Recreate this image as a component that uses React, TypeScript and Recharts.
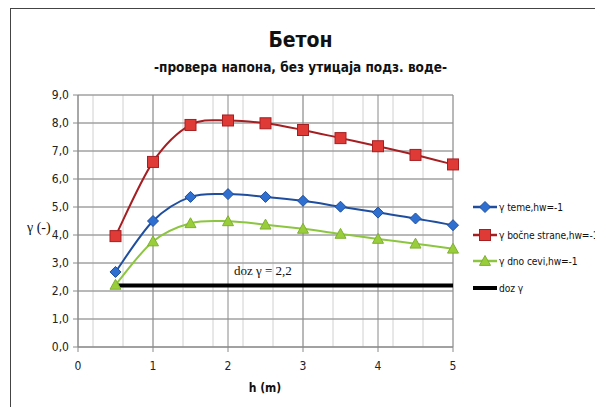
import React from 'react';
import { LineChart, Line, XAxis, YAxis, CartesianGrid } from 'recharts';

const hValues = [0.5, 1, 1.5, 2, 2.5, 3, 3.5, 4, 4.5, 5];
const gammaTeme = [2.68, 4.5, 5.36, 5.46, 5.36, 5.22, 5.01, 4.8, 4.59, 4.35];
const gammaBocne = [3.96, 6.61, 7.93, 8.09, 7.99, 7.75, 7.46, 7.17, 6.86, 6.52];
const gammaDno = [2.22, 3.77, 4.42, 4.49, 4.37, 4.22, 4.04, 3.86, 3.69, 3.51];
const dozGamma = [2.2, 2.2, 2.2, 2.2, 2.2, 2.2, 2.2, 2.2, 2.2, 2.2];

const xTicks = [0, 1, 2, 3, 4, 5];
const yTicks = [0, 1, 2, 3, 4, 5, 6, 7, 8, 9];
const xMinor = [0, 0.2, 0.4, 0.6, 0.8, 1, 1.2, 1.4, 1.6, 1.8, 2, 2.2, 2.4, 2.6, 2.8, 3, 3.2, 3.4, 3.6, 3.8, 4, 4.2, 4.4, 4.6, 4.8, 5];
const yMinor = [0, 0.2, 0.4, 0.6, 0.8, 1, 1.2, 1.4, 1.6, 1.8, 2, 2.2, 2.4, 2.6, 2.8, 3, 3.2, 3.4, 3.6, 3.8, 4, 4.2, 4.4, 4.6, 4.8, 5, 5.2, 5.4, 5.6, 5.8, 6, 6.2, 6.4, 6.6, 6.8, 7, 7.2, 7.4, 7.6, 7.8, 8, 8.2, 8.4, 8.6, 8.8, 9];

const data = hValues.map((h, i) => ({
  h,
  teme: gammaTeme[i],
  bocne: gammaBocne[i],
  dno: gammaDno[i],
  doz: dozGamma[i],
}));

const NARROW = "'Liberation Sans Narrow', 'DejaVu Sans Condensed', 'Arial Narrow', sans-serif";
const SERIF = "'Liberation Serif', 'DejaVu Serif', serif";

// Catmull-Rom style smoothing (similar to spreadsheet smoothed lines)
const smoothCurve: any = (context: any) => {
  let pts: number[][] = [];
  return {
    areaStart() {},
    areaEnd() {},
    lineStart() {
      pts = [];
    },
    point(x: number, y: number) {
      pts.push([+x, +y]);
    },
    lineEnd() {
      const n = pts.length;
      if (!n) return;
      context.moveTo(pts[0][0], pts[0][1]);
      for (let i = 0; i < n - 1; i++) {
        const p0 = pts[i - 1] || pts[i];
        const p1 = pts[i];
        const p2 = pts[i + 1];
        const p3 = pts[i + 2] || pts[i + 1];
        context.bezierCurveTo(
          p1[0] + (p2[0] - p0[0]) / 6,
          p1[1] + (p2[1] - p0[1]) / 6,
          p2[0] - (p3[0] - p1[0]) / 6,
          p2[1] - (p3[1] - p1[1]) / 6,
          p2[0],
          p2[1]
        );
      }
    },
  };
};

const Diamond = (props: any) => {
  const { cx, cy, fill, stroke } = props;
  if (cx == null || cy == null) return null;
  const r = 5.5;
  return (
    <path
      d={`M${cx},${cy - r}L${cx + r},${cy}L${cx},${cy + r}L${cx - r},${cy}Z`}
      fill={fill}
      stroke={stroke}
      strokeWidth={1}
    />
  );
};

const Square = (props: any) => {
  const { cx, cy, fill, stroke } = props;
  if (cx == null || cy == null) return null;
  const r = 5.5;
  return <rect x={cx - r} y={cy - r} width={2 * r} height={2 * r} fill={fill} stroke={stroke} strokeWidth={1} />;
};

const Triangle = (props: any) => {
  const { cx, cy, fill, stroke } = props;
  if (cx == null || cy == null) return null;
  const r = 5.5;
  return (
    <path
      d={`M${cx},${cy - r}L${cx + r},${cy + r * 0.8}L${cx - r},${cy + r * 0.8}Z`}
      fill={fill}
      stroke={stroke}
      strokeWidth={1}
    />
  );
};

const series = [
  { key: 'teme', name: 'γ teme,hw=-1', line: '#1F4E9E', fill: '#2E6FD0', stroke: '#1F4E9E', shape: 'diamond' },
  { key: 'bocne', name: 'γ bočne strane,hw=-1', line: '#A51E22', fill: '#E03A36', stroke: '#A51E22', shape: 'square' },
  { key: 'dno', name: 'γ dno cevi,hw=-1', line: '#8CC63F', fill: '#9ACD3A', stroke: '#7FB032', shape: 'triangle' },
  { key: 'doz', name: 'doz γ', line: '#000000', fill: '#000', stroke: '#000', shape: 'none' },
];

const dotFor = (s: any) => (props: any) => {
  const p = { ...props, fill: s.fill, stroke: s.stroke };
  if (s.shape === 'diamond') return <Diamond key={props.index} {...p} />;
  if (s.shape === 'square') return <Square key={props.index} {...p} />;
  if (s.shape === 'triangle') return <Triangle key={props.index} {...p} />;
  return <g key={props.index} />;
};

const fmt = (v: number) => v.toFixed(1).replace('.', ',');

const LegendIcon = ({ s }: { s: any }) => (
  <svg width={26} height={14} style={{ display: 'block' }}>
    <line x1={1} y1={7} x2={25} y2={7} stroke={s.line} strokeWidth={s.shape === 'none' ? 4 : 2.5} />
    {s.shape === 'diamond' && <Diamond cx={13} cy={7} fill={s.fill} stroke={s.stroke} />}
    {s.shape === 'square' && <Square cx={13} cy={7} fill={s.fill} stroke={s.stroke} />}
    {s.shape === 'triangle' && <Triangle cx={13} cy={7} fill={s.fill} stroke={s.stroke} />}
  </svg>
);

const legendTops = [192, 220, 246, 273];

export default function App() {
  return (
    <div style={{ position: 'relative', width: 595, height: 399, overflow: 'hidden', background: '#fff' }}>
      <div
        style={{
          position: 'absolute',
          left: 2,
          top: 0,
          width: 700,
          height: 500,
          borderLeft: '1px solid #444',
          borderTop: '1px solid #444',
        }}
      />
      <LineChart width={595} height={399} data={data} margin={{ top: 87, right: 150, bottom: 30, left: 38 }}>
        <CartesianGrid
          stroke="#D0D0D0"
          strokeWidth={1}
          horizontalValues={yMinor}
          verticalValues={xMinor}
        />
        <CartesianGrid
          stroke="#8A8A8A"
          strokeWidth={1}
          horizontalValues={yTicks}
          verticalValues={xTicks}
          fill="none"
        />
        <XAxis
          dataKey="h"
          type="number"
          domain={[0, 5]}
          ticks={xTicks}
          stroke="#8A8A8A"
          tickSize={5}
          tickMargin={9}
          height={30}
          tick={{ fill: '#222', fontSize: 12, fontFamily: NARROW }}
        />
        <YAxis
          type="number"
          domain={[0, 9]}
          ticks={yTicks}
          stroke="#8A8A8A"
          tickSize={5}
          tickMargin={4}
          width={32}
          tickFormatter={fmt}
          tick={{ fill: '#222', fontSize: 12, fontFamily: NARROW }}
        />
        {series.map((s) => (
          <Line
            key={s.key}
            dataKey={s.key}
            name={s.name}
            type={s.shape === 'none' ? 'linear' : smoothCurve}
            stroke={s.line}
            strokeWidth={s.shape === 'none' ? 4 : 2}
            dot={s.shape === 'none' ? false : dotFor(s)}
            activeDot={false}
            isAnimationActive={false}
          />
        ))}
      </LineChart>

      <div
        style={{
          position: 'absolute',
          left: 0,
          width: 585,
          top: 20,
          textAlign: 'center',
          fontFamily: NARROW,
          fontWeight: 'bold',
          fontSize: 21,
          color: '#111',
        }}
      >
        Бетон
      </div>
      <div
        style={{
          position: 'absolute',
          left: 0,
          width: 585,
          top: 51,
          textAlign: 'center',
          fontFamily: NARROW,
          fontWeight: 'bold',
          fontSize: 13.5,
          color: '#111',
        }}
      >
        -провера напона, без утицаја подз. воде-
      </div>
      <div
        style={{
          position: 'absolute',
          left: 19,
          top: 212,
          fontFamily: SERIF,
          fontSize: 14,
          color: '#111',
        }}
      >
        γ (-)
      </div>
      <div
        style={{
          position: 'absolute',
          left: 226,
          top: 255,
          fontFamily: SERIF,
          fontSize: 13,
          color: '#111',
        }}
      >
        doz γ = 2,2
      </div>
      <div
        style={{
          position: 'absolute',
          left: 207,
          width: 100,
          top: 373,
          textAlign: 'center',
          fontFamily: NARROW,
          fontWeight: 'bold',
          fontSize: 12,
          color: '#111',
        }}
      >
        h (m)
      </div>
      {series.map((s, i) => (
        <div
          key={s.key}
          style={{
            position: 'absolute',
            left: 464,
            top: legendTops[i],
            display: 'flex',
            alignItems: 'center',
            fontFamily: NARROW,
            fontSize: 10.2,
            letterSpacing: -0.1,
            color: '#111',
            whiteSpace: 'nowrap',
          }}
        >
          <LegendIcon s={s} />
          <span style={{ marginLeft: 1 }}>{s.name}</span>
        </div>
      ))}
    </div>
  );
}
